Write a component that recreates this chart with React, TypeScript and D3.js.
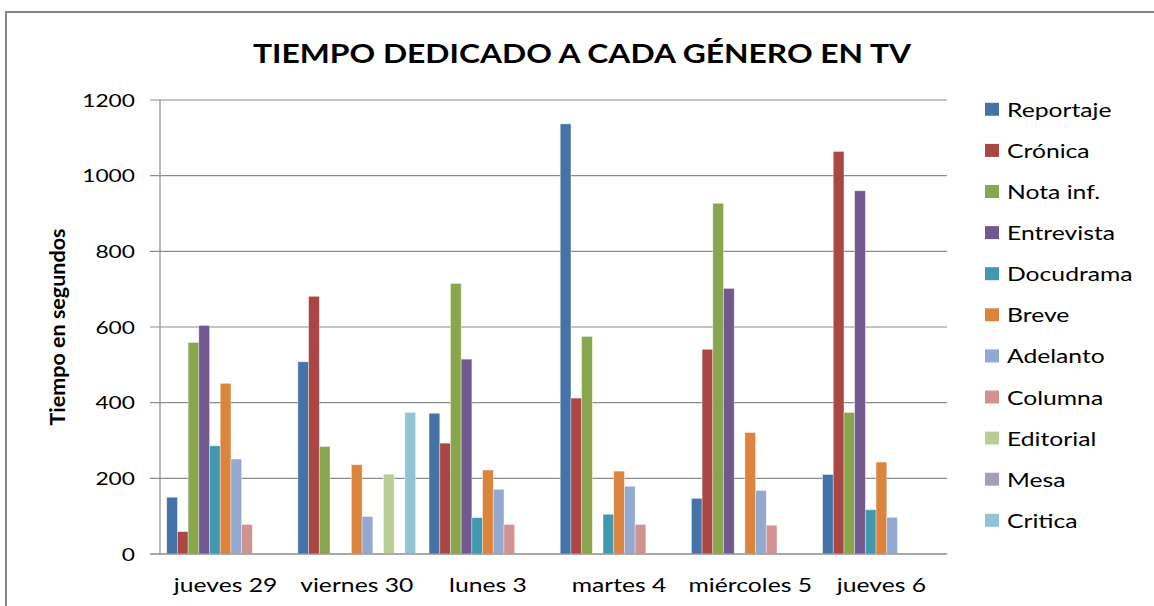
import React from "react";
import * as d3 from "d3";

const categories = ["jueves 29", "viernes 30", "lunes 3", "martes 4", "miércoles 5", "jueves 6"];
const seriesNames = ["Reportaje", "Crónica", "Nota inf.", "Entrevista", "Docudrama", "Breve", "Adelanto", "Columna", "Editorial", "Mesa", "Critica"];
const reportaje = [150, 508, 372, 1137, 147, 210];
const cronica = [59, 681, 293, 412, 541, 1064];
const notaInf = [559, 284, 715, 575, 927, 374];
const entrevista = [604, 0, 515, 0, 702, 960];
const docudrama = [286, 0, 96, 105, 0, 117];
const breve = [451, 236, 222, 219, 321, 243];
const adelanto = [251, 99, 171, 179, 168, 97];
const columna = [78, 0, 78, 78, 76, 0];
const editorial = [0, 211, 0, 0, 0, 0];
const mesa = [0, 0, 0, 0, 0, 0];
const critica = [0, 374, 0, 0, 0, 0];
const seriesValues = [reportaje, cronica, notaInf, entrevista, docudrama, breve, adelanto, columna, editorial, mesa, critica];
const colors = ["#4572A7", "#AA4643", "#89A54E", "#71588F", "#4198AF", "#DB843D", "#93A9CF", "#D19392", "#B9CD96", "#A99BBD", "#92C3D4"];
const yTicks = [0, 200, 400, 600, 800, 1000, 1200];
const title = "TIEMPO DEDICADO A CADA GÉNERO EN TV";
const yTitle = "Tiempo en segundos";

const FONT = "Lato, 'Open Sans', sans-serif";

const W = 1154, H = 606;
const L = 160, R = 947, T = 100, B = 554;

function SText({ x, y, size, anchor = "start", weight = "normal", rotate = 0, sx = 1.3, children }: any) {
  return (
    <text
      transform={`translate(${x},${y}) scale(${sx},1) rotate(${rotate})`}
      fontFamily={FONT}
      fontSize={size}
      fontWeight={weight}
      textAnchor={anchor}
      fill="#000"
    >
      {children}
    </text>
  );
}

export default function App() {
  const x0 = d3.scaleBand<string>().domain(categories).range([L, R]).paddingInner(0).paddingOuter(0);
  const x1 = d3.scaleBand<string>().domain(seriesNames).range([0, x0.bandwidth()]).paddingInner(0).paddingOuter(0.63);
  const y = d3.scaleLinear().domain([0, 1200]).range([B, T]);
  const gridColor = "#8c8c8c";

  return (
    <svg width={W} height={H} style={{ position: "absolute", left: 0, top: 0, display: "block", background: "#fff" }}>
      <rect x={6} y={12} width={W + 20} height={H + 20} fill="#fff" stroke="#868686" strokeWidth={2} />
      <SText x={582} y={63} size={26.5} anchor="middle" weight="bold" sx={1.2}>{title}</SText>
      {yTicks.map((t) => (
        <g key={t}>
          <line x1={150} x2={R} y1={y(t)} y2={y(t)} stroke={gridColor} strokeWidth={1.2} />
          <SText x={135} y={y(t) + 6.5} size={17.5} anchor="end">{t}</SText>
        </g>
      ))}
      <line x1={L} x2={L} y1={T} y2={B} stroke={gridColor} strokeWidth={1.2} />
      {categories.map((c, ci) => (
        <g key={c}>
          {seriesNames.map((s, si) => {
            const v = seriesValues[si][ci];
            if (!v) return null;
            return (
              <rect
                key={s}
                x={(x0(c) as number) + (x1(s) as number)}
                y={y(v)}
                width={x1.bandwidth()}
                height={y(0) - y(v)}
                fill={colors[si]}
                stroke="rgba(255,255,255,0.45)"
                strokeWidth={0.8}
              />
            );
          })}
          <SText x={(x0(c) as number) + x0.bandwidth() / 2} y={592} size={19} anchor="middle">{c}</SText>
        </g>
      ))}
      <line x1={150} x2={R} y1={B} y2={B} stroke={gridColor} strokeWidth={1.2} />
      <SText x={65} y={(T + B) / 2} size={21.5} anchor="middle" weight="bold" rotate={-90} sx={1}>{yTitle}</SText>
      {seriesNames.map((s, i) => {
        const cy = 109.3 + i * 41.1;
        return (
          <g key={s}>
            <rect x={985} y={cy - 6.5} width={14} height={13} fill={colors[i]} />
            <SText x={1007} y={cy + 7.5} size={19}>{s}</SText>
          </g>
        );
      })}
    </svg>
  );
}
